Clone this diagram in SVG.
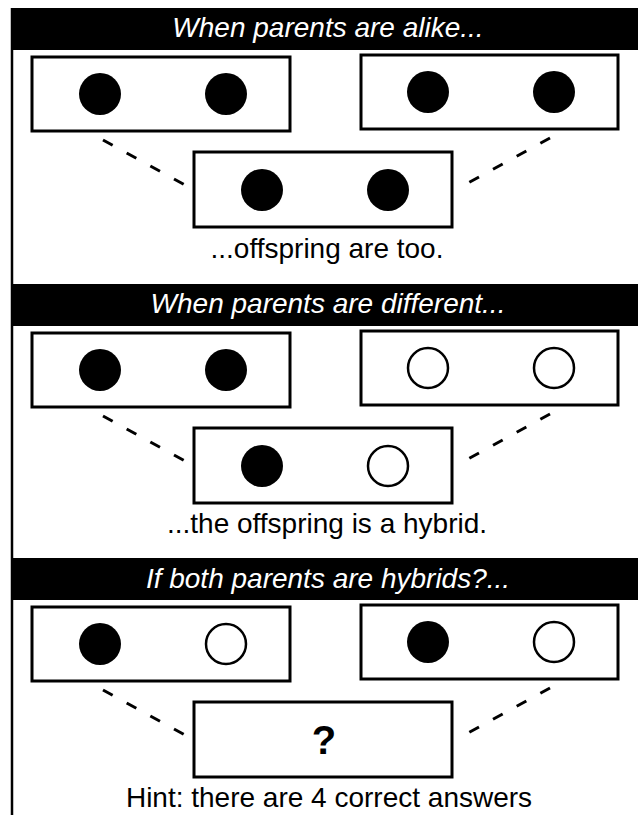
<svg xmlns="http://www.w3.org/2000/svg" width="638" height="815" viewBox="0 0 638 815">
<style>
.bar{fill:#000}
.box{fill:#fff;stroke:#000;stroke-width:3}
.dot{fill:#000}
.ring{fill:#fff;stroke:#000;stroke-width:2.5}
.hdr{font-family:"Liberation Sans",Arial,sans-serif;font-style:italic;font-size:28px;fill:#fff;text-anchor:middle}
.cap{font-family:"Liberation Sans",Arial,sans-serif;font-size:28px;fill:#000;text-anchor:middle}
.q{font-family:"Liberation Sans",Arial,sans-serif;font-size:40px;font-weight:bold;fill:#000;text-anchor:middle}
.dash{stroke:#000;stroke-width:3;stroke-dasharray:11 16;fill:none}
</style>
<rect width="638" height="815" fill="#fff"/>
<line x1="12" y1="8" x2="12" y2="815" stroke="#000" stroke-width="2.5"/>

<g id="section1">
  <g id="header1"><rect class="bar" x="11" y="8" width="627" height="42"/><text class="hdr" x="328" y="37">When parents are alike...</text></g>
  <g id="parent1a"><rect class="box" x="32" y="57" width="258" height="74"/><circle class="dot" cx="100" cy="94" r="21"/><circle class="dot" cx="226" cy="94" r="21"/></g>
  <g id="parent1b"><rect class="box" x="361" y="55" width="257" height="74"/><circle class="dot" cx="428" cy="92" r="21"/><circle class="dot" cx="554" cy="92" r="21"/></g>
  <g id="child1"><rect class="box" x="194" y="152" width="258" height="75"/><circle class="dot" cx="262" cy="190" r="21"/><circle class="dot" cx="388" cy="190" r="21"/></g>
  <text class="cap" x="327" y="258">...offspring are too.</text>
</g>

<g id="section2">
  <g id="header2"><rect class="bar" x="11" y="284" width="627" height="42"/><text class="hdr" x="328" y="313">When parents are different...</text></g>
  <g id="parent2a"><rect class="box" x="32" y="333" width="258" height="74"/><circle class="dot" cx="100" cy="370" r="21"/><circle class="dot" cx="226" cy="370" r="21"/></g>
  <g id="parent2b"><rect class="box" x="361" y="331" width="257" height="74"/><circle class="ring" cx="428" cy="368" r="20"/><circle class="ring" cx="554" cy="368" r="20"/></g>
  <g id="child2"><rect class="box" x="194" y="428" width="258" height="75"/><circle class="dot" cx="262" cy="466" r="21"/><circle class="ring" cx="388" cy="466" r="20"/></g>
  <text class="cap" x="327" y="533">...the offspring is a hybrid.</text>
</g>

<g id="section3">
  <g id="header3"><rect class="bar" x="11" y="558" width="627" height="42"/><text class="hdr" x="328" y="588">If both parents are hybrids?...</text></g>
  <g id="parent3a"><rect class="box" x="32" y="607" width="258" height="74"/><circle class="dot" cx="100" cy="644" r="21"/><circle class="ring" cx="226" cy="644" r="20"/></g>
  <g id="parent3b"><rect class="box" x="361" y="605" width="257" height="74"/><circle class="dot" cx="428" cy="642" r="21"/><circle class="ring" cx="554" cy="642" r="20"/></g>
  <g id="child3"><rect class="box" x="194" y="702" width="258" height="75"/><text class="q" x="324" y="754">?</text></g>
  <text class="cap" x="329" y="807">Hint: there are 4 correct answers</text>
</g>

<g id="connectors">
  <line class="dash" x1="103" y1="140" x2="185" y2="185"/>
  <line class="dash" x1="550" y1="138" x2="468" y2="183"/>
  <line class="dash" x1="103" y1="416" x2="185" y2="461"/>
  <line class="dash" x1="550" y1="414" x2="468" y2="459"/>
  <line class="dash" x1="103" y1="690" x2="185" y2="735"/>
  <line class="dash" x1="550" y1="688" x2="468" y2="733"/>
</g>
</svg>
